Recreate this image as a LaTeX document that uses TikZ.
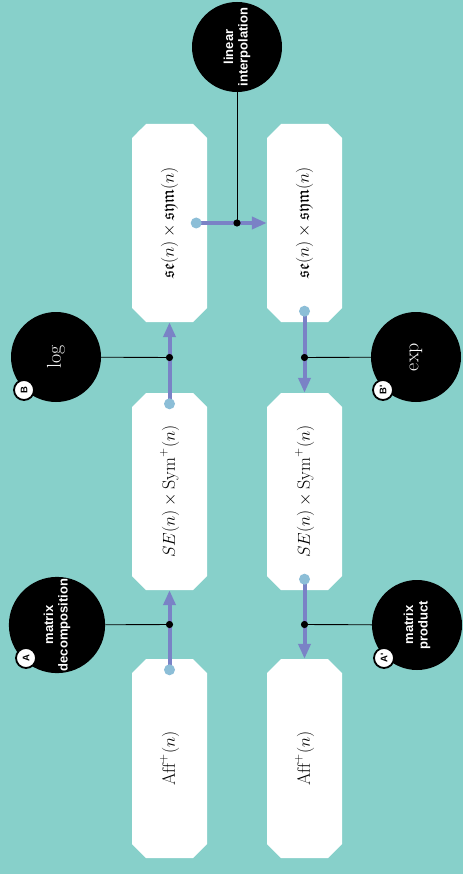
\documentclass[tikz,border=0pt]{standalone}
\usepackage{fontspec}
\usepackage{amsmath,amssymb}
\usepackage{graphicx}
\newfontfamily\labsans{Liberation Sans}
\usetikzlibrary{shapes.misc,arrows.meta,calc}
\definecolor{bgteal}{RGB}{135,208,202}
\definecolor{flowc}{RGB}{122,130,198}
\definecolor{dotc}{RGB}{140,190,215}
\begin{document}
\begin{tikzpicture}[x=1pt,y=-1pt,
  box/.style={shape=chamfered rectangle, chamfered rectangle xsep=7pt, chamfered rectangle ysep=7pt,
    fill=white, draw=none, inner sep=0pt, minimum width=75pt, minimum height=198pt,
    font=\fontsize{18}{21}\selectfont},
  opc/.style={circle, fill=black, minimum size=90pt, inner sep=0pt, text=white, rotate=90, align=center},
  wordop/.style={opc, font=\labsans\bfseries\fontsize{13}{14.5}\selectfont},
  mathop/.style={opc, font=\fontsize{20}{24}\selectfont},
  badge/.style={circle, fill=white, draw=black, line width=1.8pt, minimum size=20pt, inner sep=0pt,
    rotate=90, font=\labsans\bfseries\fontsize{9.5}{10}\selectfont},
  flow/.style={draw=flowc, line width=4pt, -{Triangle[length=15pt,width=12pt]}},
  startdot/.style={fill=dotc},
  link/.style={draw=black, line width=0.9pt},
  junc/.style={fill=black}]

\useasboundingbox (0,0) rectangle (463,874);
\fill[bgteal] (0,0) rectangle (463,874);

% boxes
\node[box] (tl) at (169.5,223) {\rotatebox{90}{$\mathfrak{se}(n)\times\mathfrak{sym}(n)$}};
\node[box] (tr) at (304.5,223) {\rotatebox{90}{$\mathfrak{se}(n)\times\mathfrak{sym}(n)$}};
\node[box, minimum height=197pt] (ml) at (169.5,491.5) {\rotatebox{90}{$SE(n)\times\mathrm{Sym}^{+}(n)$}};
\node[box, minimum height=197pt] (mr) at (304.5,491.5) {\rotatebox{90}{$SE(n)\times\mathrm{Sym}^{+}(n)$}};
\node[box, minimum height=199pt] (bl) at (169.5,758.5) {\rotatebox{90}{$\mathrm{Aff}^{+}(n)$}};
\node[box, minimum height=199pt] (br) at (304.5,758.5) {\rotatebox{90}{$\mathrm{Aff}^{+}(n)$}};

% operation circles
\node[wordop] (cA) at (57,625) {matrix\\decomposition};
\node[mathop] (cB) at (56,357) {$\log$};
\node[wordop] (cAp) at (417,625) {matrix\\product};
\node[mathop] (cBp) at (416,357) {$\exp$};
\node[wordop] (cL) at (237,47) {linear\\interpolation};

% junctions
\coordinate (jA) at ($(bl.north)!.5!(ml.south)$);
\coordinate (jB) at ($(ml.north)!.5!(tl.south)$);
\coordinate (jBp) at ($(tr.south)!.5!(mr.north)$);
\coordinate (jAp) at ($(mr.south)!.5!(br.north)$);
\coordinate (jL) at ($(tl.east)!.5!(tr.west)$);

% start points
\coordinate (sA) at ([yshift=-11pt]bl.north);
\coordinate (sB) at ([yshift=-11pt]ml.north);
\coordinate (sBp) at ([yshift=11pt]tr.south);
\coordinate (sAp) at ([yshift=11pt]mr.south);
\coordinate (sL) at ([xshift=-11pt]tl.east);

% links
\draw[link] (cA) -- (jA);
\draw[link] (cB) -- (jB);
\draw[link] (cAp) -- (jAp);
\draw[link] (cBp) -- (jBp);
\draw[link] (cL) -- (jL);

% flows
\draw[flow] (sA) -- (bl.north |- ml.south);
\draw[flow] (sB) -- (ml.north |- tl.south);
\draw[flow] (sBp) -- (tr.south |- mr.north);
\draw[flow] (sAp) -- (mr.south |- br.north);
\draw[flow] (sL) -- (tr.west |- tl.east);

\foreach \p in {sA,sB,sBp,sAp,sL} \fill[startdot] (\p) circle (5.5pt);
\foreach \p in {jA,jB,jBp,jAp,jL} \fill[junc] (\p) circle (3.6pt);

% badges
\node[badge] (bA) at ($(cA)+(-31,33)$) {A};
\node[badge] (bB) at ($(cB)+(-32,33)$) {B};
\node[badge] (bAp) at ($(cAp)+(-33,33)$) {A'};
\node[badge] (bBp) at ($(cBp)+(-33,33)$) {B'};
\end{tikzpicture}
\end{document}
